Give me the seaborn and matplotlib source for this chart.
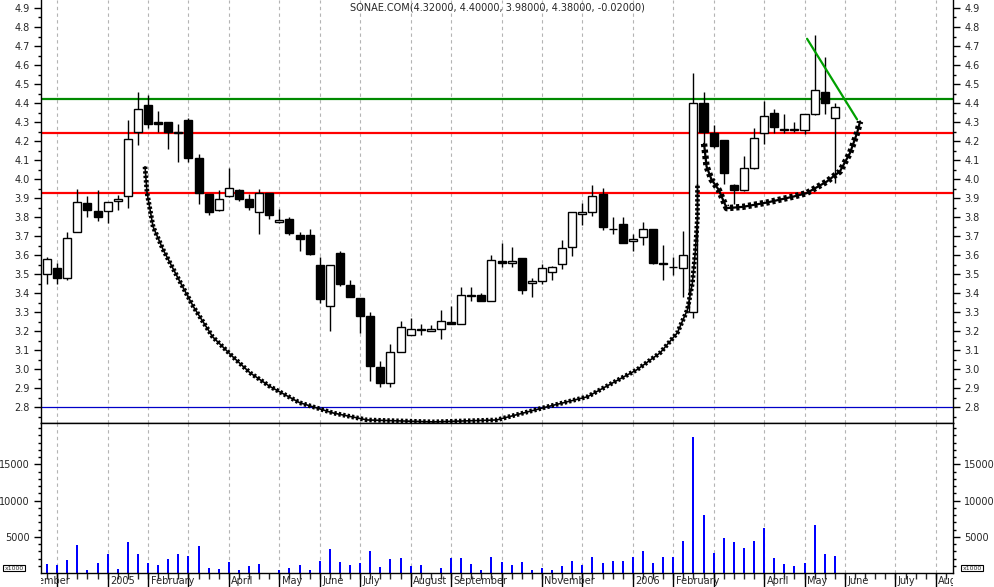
import numpy as np
import pandas as pd
import matplotlib
matplotlib.use('Agg')
import matplotlib.pyplot as plt
import seaborn as sns

# weekly candles, first week starts on this monday
WEEK_START = '2004-11-22'

opens = [3.50, 3.53, 3.48, 3.72, 3.875, 3.83, 3.83, 3.885, 3.91, 4.25,
         4.39, 4.30, 4.30, 4.245, 4.31, 4.11, 3.92, 3.835, 3.91, 3.94,
         3.895, 3.825, 3.925, 3.775, 3.79, 3.705, 3.705, 3.55, 3.33, 3.61,
         3.445, 3.375, 3.28, 3.01, 2.93, 3.09, 3.18, 3.205, 3.20, 3.21,
         3.25, 3.24, 3.385, 3.39, 3.36, 3.57, 3.56, 3.585, 3.455, 3.465,
         3.51, 3.555, 3.645, 3.815, 3.825, 3.92, 3.74, 3.765, 3.675, 3.695,
         3.74, 3.56, 3.535, 3.53, 3.30, 4.40, 4.245, 4.205, 3.97, 3.94,
         4.06, 4.245, 4.345, 4.26, 4.26, 4.26, 4.34, 4.46, 4.32]
highs = [3.59, 3.56, 3.72, 3.95, 3.91, 3.94, 3.88, 3.915, 4.31, 4.46,
         4.44, 4.36, 4.30, 4.29, 4.32, 4.13, 3.92, 3.94, 4.06, 3.95,
         3.92, 3.95, 3.925, 3.845, 3.80, 3.72, 3.74, 3.59, 3.55, 3.62,
         3.47, 3.375, 3.30, 3.045, 3.135, 3.255, 3.27, 3.24, 3.23, 3.31,
         3.335, 3.43, 3.43, 3.40, 3.60, 3.665, 3.645, 3.585, 3.48, 3.555,
         3.545, 3.68, 3.825, 3.875, 3.97, 3.955, 3.80, 3.80, 3.71, 3.775,
         3.74, 3.655, 3.59, 3.725, 4.56, 4.46, 4.285, 4.205, 3.975, 4.12,
         4.27, 4.41, 4.37, 4.34, 4.30, 4.34, 4.76, 4.64, 4.40]
lows = [3.45, 3.45, 3.47, 3.72, 3.80, 3.78, 3.77, 3.835, 3.85, 4.18,
        4.27, 4.25, 4.16, 4.09, 4.09, 3.87, 3.81, 3.83, 3.905, 3.885,
        3.835, 3.71, 3.79, 3.77, 3.705, 3.62, 3.60, 3.35, 3.20, 3.435,
        3.38, 3.19, 2.94, 2.905, 2.905, 3.09, 3.18, 3.18, 3.20, 3.16,
        3.24, 3.24, 3.36, 3.36, 3.36, 3.535, 3.54, 3.395, 3.38, 3.45,
        3.47, 3.525, 3.595, 3.76, 3.805, 3.73, 3.71, 3.665, 3.62, 3.655,
        3.555, 3.47, 3.495, 3.38, 3.27, 4.19, 4.165, 3.975, 3.87, 3.935,
        4.055, 4.185, 4.245, 4.24, 4.25, 4.235, 4.335, 4.34, 3.98]
closes = [3.58, 3.48, 3.69, 3.88, 3.835, 3.80, 3.88, 3.895, 4.21, 4.37,
          4.29, 4.29, 4.25, 4.25, 4.11, 3.925, 3.825, 3.895, 3.955, 3.895,
          3.855, 3.925, 3.81, 3.785, 3.715, 3.685, 3.605, 3.37, 3.55, 3.45,
          3.38, 3.28, 3.015, 2.93, 3.09, 3.22, 3.21, 3.21, 3.21, 3.255,
          3.24, 3.39, 3.385, 3.36, 3.575, 3.56, 3.57, 3.415, 3.465, 3.53,
          3.54, 3.635, 3.825, 3.825, 3.91, 3.75, 3.735, 3.665, 3.685, 3.74,
          3.56, 3.555, 3.535, 3.60, 4.40, 4.25, 4.175, 4.03, 3.945, 4.06,
          4.215, 4.33, 4.275, 4.26, 4.265, 4.34, 4.47, 4.40, 4.38]
# volume in thousands of shares
volumes = [1200, 1060, 1750, 3825, 370, 1340, 2580, 500, 4240, 2580,
           1340, 1060, 1890, 2580, 2300, 3690, 645, 500, 1470, 370,
           920, 1200, 0, 370, 645, 1060, 370, 1610, 3270, 1470,
           1060, 1340, 3000, 780, 1890, 2030, 920, 1060, 0, 645,
           2030, 2030, 1200, 370, 2170, 1470, 1060, 1470, 370, 645,
           370, 920, 1610, 1060, 2170, 1340, 1610, 1610, 2170, 3000,
           1340, 2170, 2170, 4380, 18760, 8060, 2720, 4790, 4240, 3410,
           4380, 6180, 2030, 1200, 920, 1340, 6590, 2580, 2300]

month_labels = ['November', '', '2005', 'February', '', 'April', 'May', 'June',
                'July', 'August', 'September', '', 'November', '', '2006',
                'February', '', 'April', 'May', 'June', 'July', 'August']

# hand drawn lines (week index, price)
cup_big_x = [9.7, 9.9, 10.5, 11.5, 12.9, 14.5, 16.4, 18.4, 20.1, 22.1, 25.0,
             28.3, 31.7, 38.2, 44.5, 49.5, 53.5, 56.0, 58.4, 60.7, 62.4,
             63.4, 63.9, 64.2, 64.4, 64.4]
cup_big_y = [4.065, 3.928, 3.749, 3.628, 3.486, 3.328, 3.170, 3.065, 2.981,
             2.908, 2.824, 2.770, 2.733, 2.723, 2.733, 2.802, 2.855, 2.928,
             2.997, 3.086, 3.191, 3.312, 3.454, 3.628, 3.801, 3.970]
cup_small_x = [65.05, 65.3, 65.8, 66.5, 67.0, 67.3, 68.9, 71.3, 73.9, 75.2,
               77.2, 78.5, 79.5, 80.2, 80.5]
cup_small_y = [4.186, 4.066, 3.996, 3.944, 3.882, 3.847, 3.854, 3.877, 3.908,
               3.926, 3.987, 4.04, 4.137, 4.242, 4.303]
trend_x = [75.25, 80.2]
trend_y = [4.738, 4.314]
green_level = 4.42
red_levels = [4.24, 3.925]
blue_level = 2.80

title = 'SONAE.COM(4.32000, 4.40000, 3.98000, 4.38000, -0.02000)'

sns.set_style('white')
plt.rcParams['font.family'] = ['DejaVu Sans']
plt.rcParams['font.size'] = 7

idx = np.arange(len(opens))
o = np.array(opens); c = np.array(closes)
start = pd.Timestamp(WEEK_START)
month_firsts = pd.date_range('2004-11-01', '2006-08-31', freq='BMS')
month_idx = np.array((month_firsts - start).days // 7)

W_PX, H_PX = 994, 587
fig = plt.figure(figsize=(W_PX / 100, H_PX / 100), dpi=100)
L, R = 41 / W_PX, 953 / W_PX
ax_p = fig.add_axes([L, 1 - 423 / H_PX, R - L, 423 / H_PX])
ax_v = fig.add_axes([L, 1 - 573 / H_PX, R - L, 150 / H_PX])
ax_s = fig.add_axes([L, 0, R - L, 14 / H_PX])
XLIM = (-0.6, 89.7)

grid_kw = dict(color='#b4b4b4', lw=0.8, ls=(0, (3, 3)), zorder=0)

# price panel
for m in month_idx:
    if XLIM[0] < m < XLIM[1]:
        ax_p.axvline(m, **grid_kw)
        ax_v.axvline(m, **grid_kw)
ax_p.axhline(green_level, color='#008a00', lw=1.6, zorder=1)
for lv in red_levels:
    ax_p.axhline(lv, color='#ff0000', lw=1.6, zorder=1)
ax_p.axhline(blue_level, color='#0000c8', lw=0.9, zorder=1)

ax_p.vlines(idx, lows, highs, color='black', lw=1, zorder=2)
up = c >= o
ax_p.bar(idx, np.maximum(np.abs(c - o), 0.004), bottom=np.minimum(o, c), width=0.8,
         color=np.where(up, 'white', 'black'), edgecolor='black', linewidth=1, zorder=3)

for xs, ys, w in [(cup_big_x, cup_big_y, 3.4), (cup_small_x, cup_small_y, 4.6)]:
    ax_p.plot(xs, ys, color='black', lw=w, ls=(0, (0.5, 0.45)), zorder=4)
    ax_p.plot(xs, ys, color='black', lw=w * 0.35, zorder=4)
ax_p.plot(trend_x, trend_y, color='#00a000', lw=1.6, zorder=4)

ax_p.set_xlim(*XLIM)
ax_p.set_ylim(2.717, 4.942)
ax_p.set_yticks(np.round(np.arange(2.8, 4.91, 0.1), 2))
ax_p.set_yticks(np.round(np.arange(2.75, 4.95, 0.05), 3), minor=True)
ax_p.yaxis.set_major_formatter(matplotlib.ticker.FormatStrFormatter('%.1f'))
ax_p.set_xticks([])
ax_p.spines['top'].set_visible(False)

# volume panel
vol_df = pd.DataFrame({'week': idx, 'volume': volumes})
sns.barplot(data=vol_df, x='week', y='volume', native_scale=True, width=0.2,
            color='#0000ff', saturation=1, linewidth=0, errorbar=None, ax=ax_v, zorder=2)
ax_v.set_xlim(*XLIM)
ax_v.set_ylim(0, 20700)
ax_v.set_yticks([5000, 10000, 15000])
ax_v.set_yticks(np.arange(1000, 20001, 1000), minor=True)
ax_v.set_xticks(np.arange(0, 90))
ax_v.set_xticklabels([])
ax_v.set_xlabel('')
ax_v.set_ylabel('')

for ax in (ax_p, ax_v):
    for s in ax.spines.values():
        s.set_color('black')
        s.set_linewidth(1)
    ax.tick_params(axis='y', which='both', left=True, right=True,
                   labelleft=True, labelright=True, direction='out',
                   color='black', labelsize=7, pad=3)
    ax.tick_params(axis='y', which='major', length=5, width=1)
    ax.tick_params(axis='y', which='minor', length=2.5, width=1)
ax_v.tick_params(axis='x', which='major', bottom=True, length=4, width=1, direction='out')

# month label strip
ax_s.set_xlim(*XLIM)
ax_s.set_ylim(0, 1)
ax_s.axis('off')
for m, lab in zip(month_idx, month_labels):
    ax_s.vlines(m, 0, 1, color='black', lw=1, clip_on=True)
    if lab:
        ax_s.text(m + 0.25, 0.45, lab, ha='left', va='center', fontsize=7, clip_on=True)

fig.text(497 / W_PX, 1 - 8 / H_PX, title, ha='center', va='center', fontsize=7)
box = dict(boxstyle='square,pad=0.15', facecolor='white', edgecolor='black', lw=0.8)
fig.text(14 / W_PX, 1 - 568 / H_PX, 'x1000', ha='center', va='center', fontsize=4.5, bbox=box)
fig.text(972 / W_PX, 1 - 568 / H_PX, 'x1000', ha='center', va='center', fontsize=4.5, bbox=box)

fig.savefig('out.png', dpi=100)
